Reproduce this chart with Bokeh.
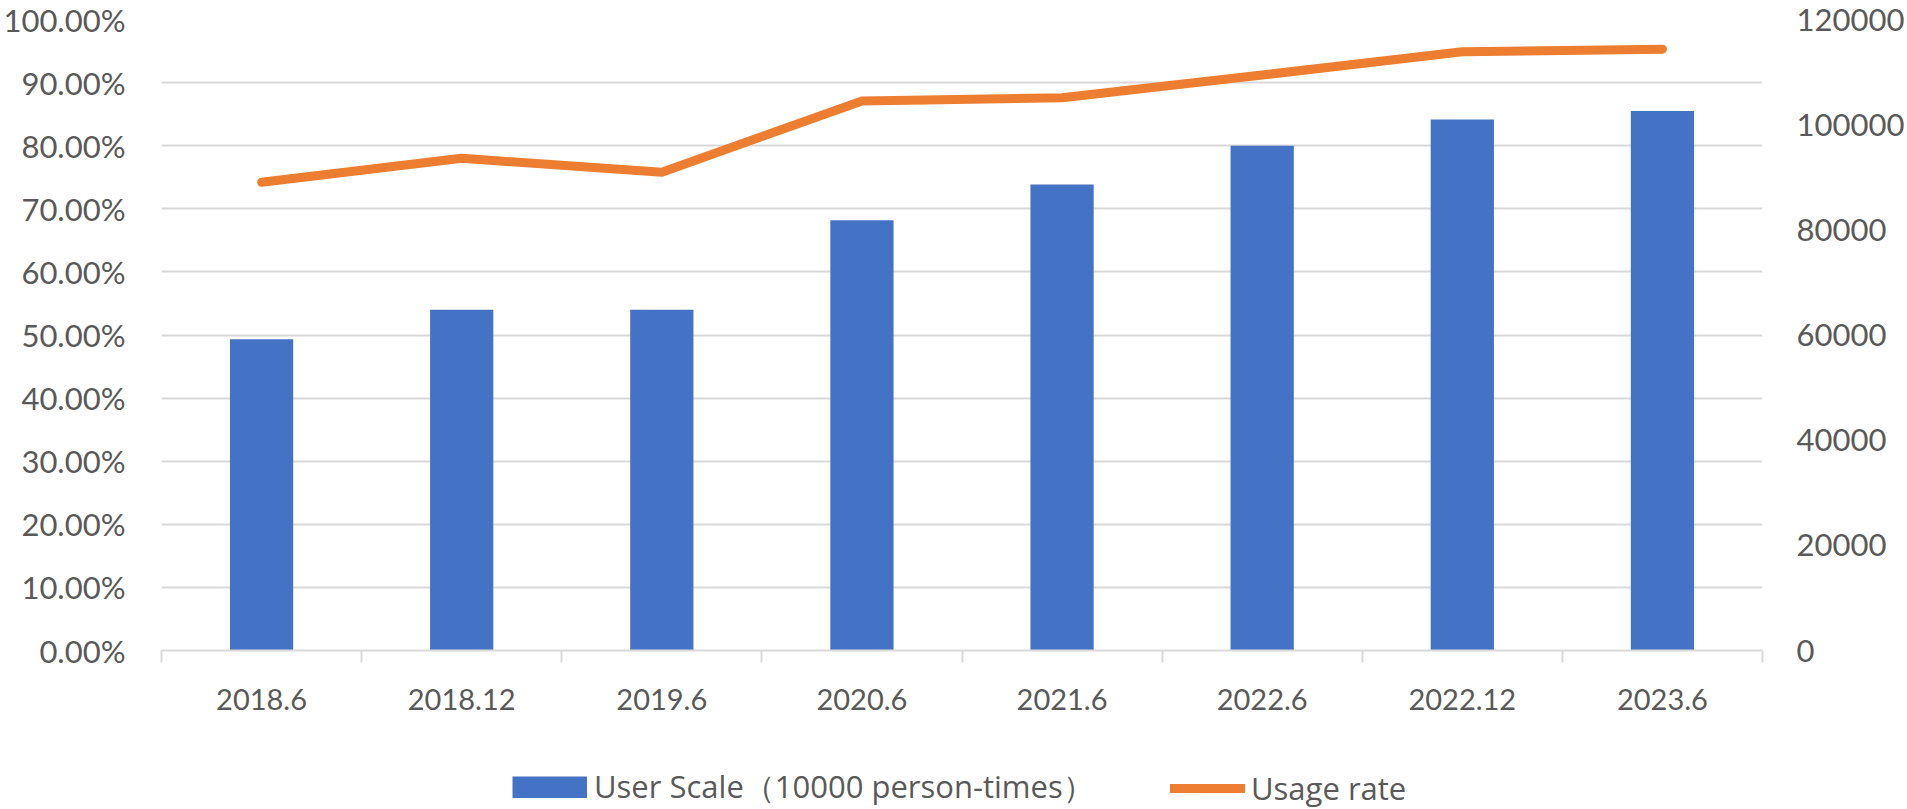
from bokeh.plotting import figure
from bokeh.layouts import column
from bokeh.models import (Range1d, LinearAxis, FixedTicker, SingleIntervalTicker,
                          PrintfTickFormatter, NumeralTickFormatter, Legend, LegendItem)
from bokeh.embed import file_html
from bokeh.resources import INLINE

categories = ["2018.6", "2018.12", "2019.6", "2020.6", "2021.6", "2022.6", "2022.12", "2023.6"]
user_scale = [59200, 64800, 64800, 81800, 88600, 96000, 101000, 102600]  # 10000 person-times
usage_rate = [74.2, 78.0, 75.8, 87.1, 87.6, 91.2, 94.9, 95.3]  # percent
bar_label = "User Scale（10000 person-times）"
line_label = "Usage rate"

FONT = "Lato"
FS = "29px"
FSY = "31px"
TXT = "#595959"
GRID = "#D9D9D9"
BLUE = "#4472C4"
ORANGE = "#ED7D31"
W = 1907

n = len(categories)
xpos = [i + 0.5 for i in range(n)]

p = figure(width=W, height=740, output_backend="svg", toolbar_location=None,
           x_range=Range1d(0, n), y_range=Range1d(0, 100),
           min_border_left=160, min_border_right=143, min_border_top=19, min_border_bottom=90)
p.outline_line_color = None
p.background_fill_color = "white"
p.border_fill_color = "white"
p.extra_y_ranges = {"users": Range1d(0, 120000)}

bars = p.vbar(x=xpos, top=user_scale, width=0.316, y_range_name="users",
              fill_color=BLUE, line_color=None)
line = p.line(x=xpos, y=usage_rate, line_color=ORANGE, line_width=9,
              line_cap="round", line_join="round")

# x axis
xa = p.xaxis[0]
xa.ticker = FixedTicker(ticks=xpos, minor_ticks=list(range(n + 1)))
xa.major_label_overrides = {x: c for x, c in zip(xpos, categories)}
xa.major_tick_out = 0
xa.major_tick_in = 0
xa.minor_tick_out = 12
xa.minor_tick_in = 0
xa.minor_tick_line_color = GRID
xa.minor_tick_line_width = 2
xa.axis_line_color = GRID
xa.axis_line_width = 2
xa.major_label_text_font = FONT
xa.major_label_text_font_size = FS
xa.major_label_text_color = TXT
xa.major_label_standoff = 26

# left axis
ya = p.yaxis[0]
ya.ticker = SingleIntervalTicker(interval=10)
ya.formatter = PrintfTickFormatter(format="%.2f%%")
ya.axis_line_color = None
ya.major_tick_line_color = None
ya.minor_tick_line_color = None
ya.major_label_text_font = FONT
ya.major_label_text_font_size = FSY
ya.major_label_text_color = TXT
ya.major_label_standoff = 30

# right axis
ra = LinearAxis(y_range_name="users", ticker=SingleIntervalTicker(interval=20000),
                formatter=NumeralTickFormatter(format="0"))
ra.axis_line_color = None
ra.major_tick_line_color = None
ra.minor_tick_line_color = None
ra.major_label_text_font = FONT
ra.major_label_text_font_size = FSY
ra.major_label_text_color = TXT
ra.major_label_standoff = 28
p.add_layout(ra, "right")

p.xgrid.visible = False
p.ygrid.grid_line_color = GRID
p.ygrid.grid_line_width = 2

# legend strip under the chart; the key renderers sit outside its visible ranges
lg = figure(width=W, height=69, output_backend="svg", toolbar_location=None,
            x_range=Range1d(0, n), y_range=Range1d(-1, 0),
            x_axis_location=None, y_axis_location=None, min_border=0)
lg.outline_line_color = None
lg.grid.visible = False
lg.border_fill_color = "white"
lg.background_fill_color = "white"
key_bar = lg.line(x=xpos, y=user_scale, line_color=BLUE, line_width=22, line_cap="butt")
key_line = lg.line(x=xpos, y=usage_rate, line_color=ORANGE, line_width=9, line_cap="round")

common = dict(orientation="horizontal", padding=0, margin=0, border_line_color=None,
              background_fill_alpha=0, label_text_font="Open Sans", label_text_font_size="31px",
              label_text_color=TXT, glyph_width=75, glyph_height=22)
leg1 = Legend(items=[LegendItem(label=bar_label, renderers=[key_bar])],
              location=(351, 0), label_standoff=7, **common)
leg2 = Legend(items=[LegendItem(label=line_label, renderers=[key_line])],
              location=(1009, 0), label_standoff=6, **common)
lg.add_layout(leg1, "center")
lg.add_layout(leg2, "center")

layout = column(p, lg, spacing=0)
open("out.html", "w").write(file_html(layout, INLINE))
